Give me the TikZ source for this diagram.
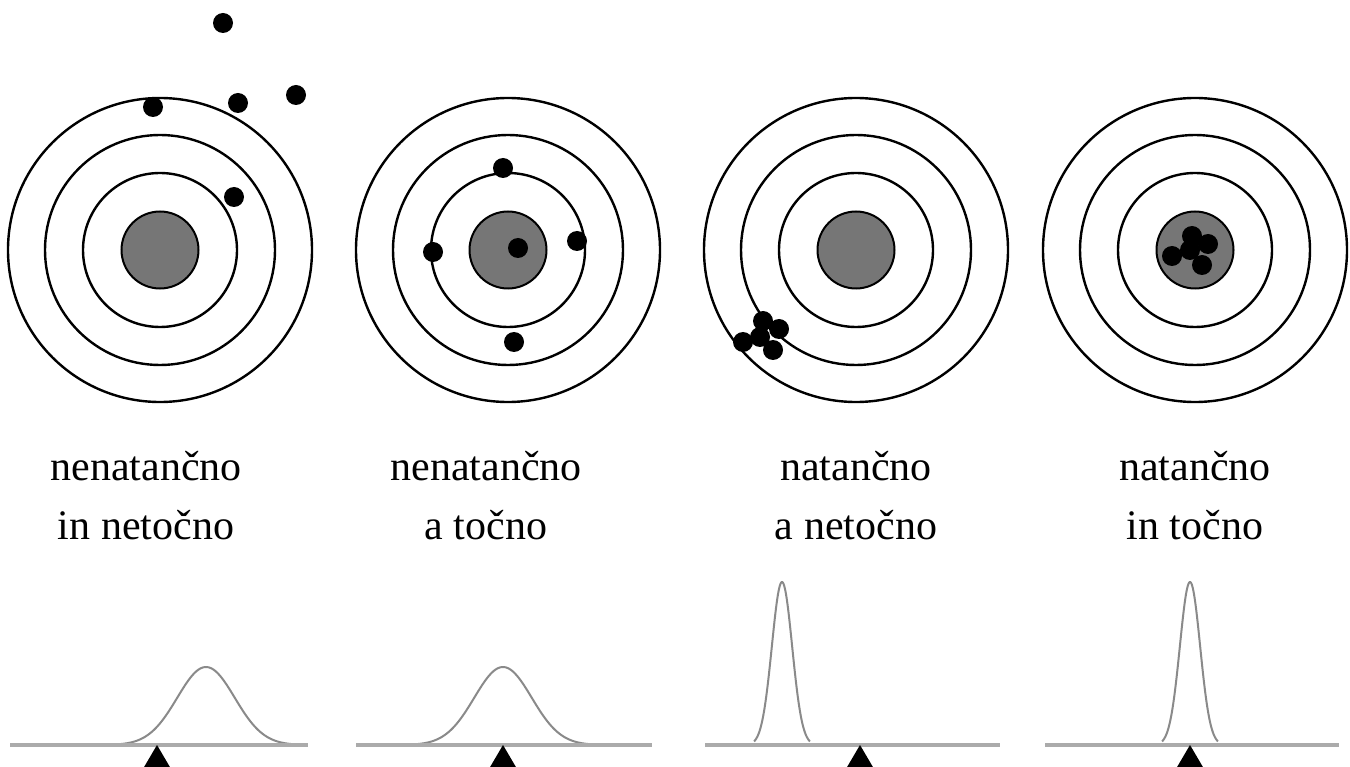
\documentclass[tikz,border=0pt]{standalone}
\usepackage{fontspec}
\setmainfont{Liberation Serif}
\begin{document}
\begin{tikzpicture}[x=1pt,y=-1pt,
  ring/.style={draw=black,line width=2.4pt},
  bull/.style={draw=black,line width=2pt,fill=bullgray},
  shot/.style={fill=black},
  axisline/.style={draw=axisgray,line width=3.5pt},
  curve/.style={draw=curvegray,line width=2pt},
  marker/.style={fill=black},
  lbl/.style={anchor=base,inner sep=0pt,font=\fontsize{42}{59}\selectfont}]
\definecolor{bullgray}{HTML}{767676}
\definecolor{axisgray}{HTML}{ABABAB}
\definecolor{curvegray}{HTML}{8A8A8A}
\useasboundingbox (0,0) rectangle (1350,767);
\fill[white] (0,0) rectangle (1350,767);

% targets: rings and bull's eye
\foreach \cx in {160,508,856,1195}{
  \draw[ring] (\cx,250) circle[radius=152];
  \draw[ring] (\cx,250) circle[radius=115];
  \draw[ring] (\cx,250) circle[radius=77];
  \draw[bull] (\cx,250) circle[radius=38.5];
}

% shots, target 1
\foreach \p in {(223,23),(153,107),(238,103),(296,95),(234,197)}
  \fill[shot] \p circle[radius=10];
% shots, target 2
\foreach \p in {(503,168),(433,252),(518,248),(577,241),(514,342)}
  \fill[shot] \p circle[radius=10];
% shots, target 3
\foreach \p in {(743,342),(763,321),(779,329),(773,350),(760,337)}
  \fill[shot] \p circle[radius=10];
% shots, target 4
\foreach \p in {(1172,256),(1192,236),(1208,244),(1202,265),(1190,250)}
  \fill[shot] \p circle[radius=10];

% labels
\node[lbl] (l1a) at (146,480) {nenatančno};
\node[lbl] (l1b) at (146,539) {in netočno};
\node[lbl] (l2a) at (486,480) {nenatančno};
\node[lbl] (l2b) at (486,539) {a točno};
\node[lbl] (l3a) at (856,480) {natančno};
\node[lbl] (l3b) at (856,539) {a netočno};
\node[lbl] (l4a) at (1195,480) {natančno};
\node[lbl] (l4b) at (1195,539) {in točno};

% distributions
\draw[curve] plot[domain=-95:95,samples=90,smooth] ({206+\x},{745-78*exp(-\x*\x/1650)});
\draw[curve] plot[domain=-95:95,samples=90,smooth] ({503+\x},{745-78*exp(-\x*\x/1650)});
\draw[curve] plot[domain=-28:28,samples=90,smooth] ({782+\x},{745-163*exp(-\x*\x/205)});
\draw[curve] plot[domain=-28:28,samples=90,smooth] ({1190+\x},{745-163*exp(-\x*\x/205)});

% axes
\draw[axisline] (10,745) -- (308,745);
\draw[axisline] (356,745) -- (652,745);
\draw[axisline] (705,745) -- (1000,745);
\draw[axisline] (1045,745) -- (1339,745);

% true-value markers
\foreach \mx in {157,503,860,1190}
  \fill[marker] (\mx,745) -- (\mx+13.5,768) -- (\mx-13.5,768) -- cycle;
\end{tikzpicture}
\end{document}
